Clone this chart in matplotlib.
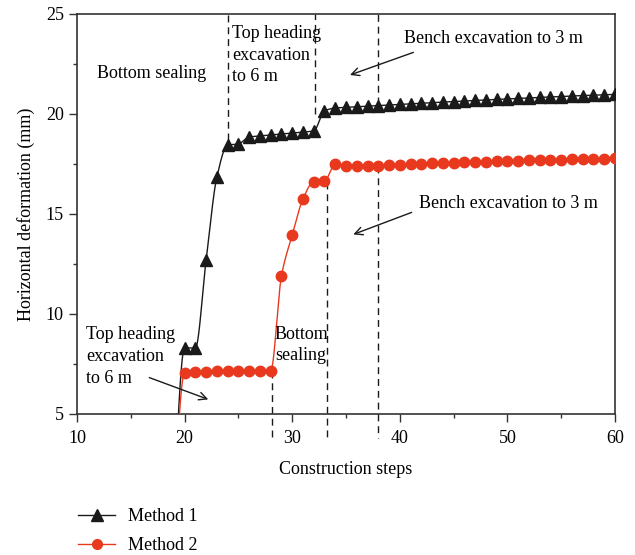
import numpy as np
import matplotlib
matplotlib.use("Agg")
import matplotlib.pyplot as plt
from matplotlib.ticker import MultipleLocator

plt.rcParams['font.family'] = ['Liberation Serif', 'DejaVu Serif']
plt.rcParams['mathtext.fontset'] = 'dejavuserif'

# ---------------- data ----------------
steps = list(range(19, 61))
method1 = [0.0, 8.3, 8.3, 12.7, 16.85, 18.45, 18.5, 18.85, 18.9, 18.95, 19.0, 19.05,
           19.1, 19.15, 20.15, 20.3, 20.33, 20.36, 20.39, 20.42, 20.45, 20.48, 20.51,
           20.54, 20.57, 20.6, 20.62, 20.65, 20.68, 20.7, 20.73, 20.75, 20.78, 20.8,
           20.83, 20.85, 20.87, 20.9, 20.92, 20.94, 20.96, 20.98]
method2 = [0.0, 7.05, 7.08, 7.12, 7.14, 7.15, 7.15, 7.16, 7.16, 7.17, 11.9, 13.95,
           15.75, 16.62, 16.65, 17.5, 17.42, 17.38, 17.38, 17.42, 17.45, 17.47, 17.49,
           17.51, 17.53, 17.55, 17.57, 17.59, 17.61, 17.62, 17.64, 17.65, 17.67, 17.68,
           17.7, 17.71, 17.72, 17.74, 17.75, 17.76, 17.77, 17.78]
series_labels = ["Method 1", "Method 2"]

x_ticks = [10, 20, 30, 40, 50, 60]
y_ticks = [5, 10, 15, 20, 25]

# stage guide lines (step, from, to)
guide_x = [24.0, 32.1, 38.0, 28.1, 33.2, 38.0]
guide_y0 = [18.7, 20.0, 20.5, 7.15, 16.6, 17.38]
guide_y1 = [25.0, 25.0, 25.0, 3.8, 3.8, 3.8]


def pchip(x, y, xs):
    x = np.asarray(x, float)
    y = np.asarray(y, float)
    h = np.diff(x)
    dl = np.diff(y) / h
    n = len(x)
    d = np.zeros(n)
    for k in range(1, n - 1):
        if dl[k - 1] * dl[k] > 0:
            w1 = 2 * h[k] + h[k - 1]
            w2 = h[k] + 2 * h[k - 1]
            d[k] = (w1 + w2) / (w1 / dl[k - 1] + w2 / dl[k])

    def end(h0, h1, d0, d1):
        v = ((2 * h0 + h1) * d0 - h0 * d1) / (h0 + h1)
        if np.sign(v) != np.sign(d0):
            v = 0.0
        elif np.sign(d0) != np.sign(d1) and abs(v) > abs(3 * d0):
            v = 3 * d0
        return v
    d[0] = end(h[0], h[1], dl[0], dl[1])
    d[-1] = end(h[-1], h[-2], dl[-1], dl[-2])
    idx = np.clip(np.searchsorted(x, xs) - 1, 0, n - 2)
    t = (xs - x[idx]) / h[idx]
    h00 = 2 * t**3 - 3 * t**2 + 1
    h10 = t**3 - 2 * t**2 + t
    h01 = -2 * t**3 + 3 * t**2
    h11 = t**3 - t**2
    return h00 * y[idx] + h10 * h[idx] * d[idx] + h01 * y[idx + 1] + h11 * h[idx] * d[idx + 1]


fig = plt.figure(figsize=(6.35, 5.55), dpi=100)
ax = fig.add_axes([77 / 635, 1 - 414 / 555, (615 - 77) / 635, (414 - 14) / 555])

BLACK = '#1a1a1a'
RED = '#e8391f'
xs = np.linspace(steps[0], steps[-1], 2000)

ax.plot(xs, pchip(steps, method1, xs), color=BLACK, lw=1.0, zorder=3)
ax.plot(steps, method1, ls='none', marker='^', ms=8.5, color=BLACK, zorder=4)
ax.plot(xs, pchip(steps, method2, xs), color=RED, lw=1.0, zorder=3)
ax.plot(steps, method2, ls='none', marker='o', ms=7.5, color=RED, zorder=4)

for gx, g0, g1 in zip(guide_x, guide_y0, guide_y1):
    ax.plot([gx, gx], [g0, g1], color=BLACK, lw=1.0, ls=(0, (5, 3.5)),
            clip_on=False, zorder=2)

ax.set_xlim(10, 60)
ax.set_ylim(5, 25)
ax.set_xticks(x_ticks)
ax.set_yticks(y_ticks)
ax.xaxis.set_minor_locator(MultipleLocator(5))
ax.yaxis.set_minor_locator(MultipleLocator(2.5))
fs = 13
ax.tick_params(which='major', direction='out', length=5.5, width=1.0,
               labelsize=fs, color='#333333')
ax.tick_params(which='minor', direction='out', length=3, width=1.0, color='#333333')
ax.tick_params(axis='x', which='major', pad=6)
ax.tick_params(axis='y', which='major', pad=4)
for s in ax.spines.values():
    s.set_color('#333333')
    s.set_linewidth(1.2)

ax.set_xlabel('Construction steps', fontsize=fs, labelpad=10)
ax.set_ylabel('Horizontal deformation (mm)', fontsize=fs, labelpad=8)

ls = 1.38
ax.text(11.85, 22.05, 'Bottom sealing', fontsize=fs, va='center', ha='left')
ax.text(24.4, 22.95, 'Top heading\nexcavation\nto 6 m', fontsize=fs, va='center',
        ha='left', linespacing=ls)
ax.text(40.4, 23.78, 'Bench excavation to 3 m', fontsize=fs, va='center', ha='left')
ax.annotate('', xy=(35.37, 21.95), xytext=(41.26, 23.08),
            arrowprops=dict(arrowstyle='->', lw=1.0, color=BLACK,
                            mutation_scale=14, shrinkA=0, shrinkB=0))
ax.text(41.8, 15.53, 'Bench excavation to 3 m', fontsize=fs, va='center', ha='left')
ax.annotate('', xy=(35.68, 13.98), xytext=(41.1, 15.08),
            arrowprops=dict(arrowstyle='->', lw=1.0, color=BLACK,
                            mutation_scale=14, shrinkA=0, shrinkB=0))
ax.text(10.84, 7.87, 'Top heading\nexcavation\nto 6 m', fontsize=fs, va='center',
        ha='left', linespacing=ls)
ax.annotate('', xy=(22.2, 5.73), xytext=(16.72, 6.82),
            arrowprops=dict(arrowstyle='->', lw=1.0, color=BLACK,
                            mutation_scale=14, shrinkA=0, shrinkB=0))
ax.text(28.4, 8.45, 'Bottom\nsealing', fontsize=fs, va='center', ha='left',
        linespacing=ls)

h1, = ax.plot([], [], color=BLACK, lw=1.0, marker='^', ms=8.5)
h2, = ax.plot([], [], color=RED, lw=1.0, marker='o', ms=7.0)
fig.legend([h1, h2], series_labels, loc='upper left',
           bbox_to_anchor=(78 / 635, 1 - 508 / 555), frameon=False,
           fontsize=fs, handlelength=2.05, handletextpad=0.7,
           labelspacing=0.68, borderpad=0, borderaxespad=0)

fig.savefig('out.png', dpi=100)
